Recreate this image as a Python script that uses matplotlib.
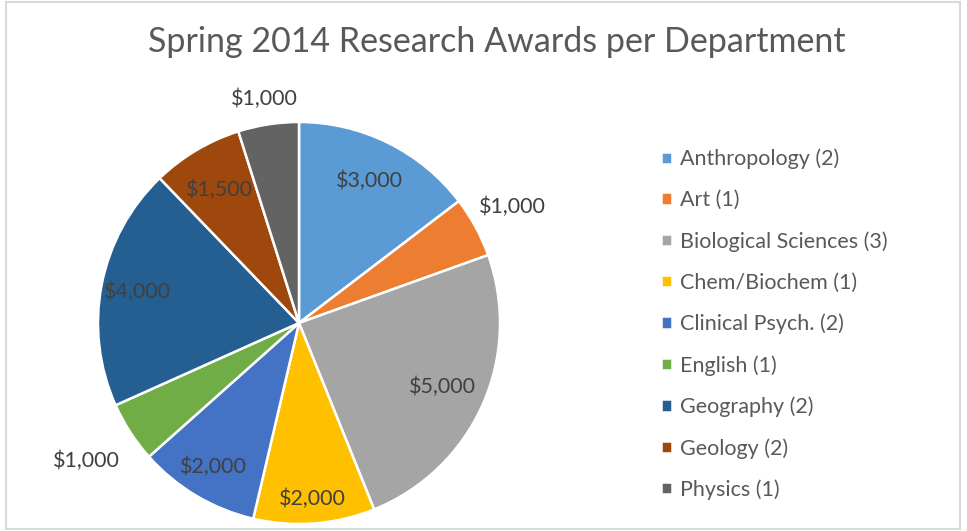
import numpy as np
import matplotlib.pyplot as plt
from matplotlib.patches import Rectangle

departments = ["Anthropology (2)", "Art (1)", "Biological Sciences (3)", "Chem/Biochem (1)",
               "Clinical Psych. (2)", "English (1)", "Geography (2)", "Geology (2)", "Physics (1)"]
awards = [3000, 1000, 5000, 2000, 2000, 1000, 4000, 1500, 1000]
colors = ["#5B9BD5", "#ED7D31", "#A5A5A5", "#FFC000", "#4472C4",
          "#70AD47", "#255E91", "#9E480E", "#636363"]

# label distance from centre (in radii) for each slice, like Excel's best fit
label_dist = [0.79, 1.21, 0.78, 0.88, 0.83, 1.26, 0.82, 0.77, 1.13]

plt.rcParams['font.family'] = ['Lato', 'DejaVu Sans']

fig = plt.figure(figsize=(9.67, 5.31), dpi=100)
fig.patches.append(Rectangle((6 / 967, 2 / 531), 954 / 967, 527 / 531, transform=fig.transFigure,
                             fill=False, edgecolor="#D9D9D9", linewidth=1.5))

ax = fig.add_axes([(299 - 201) / 967, (531 - 323 - 201) / 531, 402 / 967, 402 / 531])
wedges, _ = ax.pie(awards, colors=colors, startangle=90, counterclock=False,
                   wedgeprops=dict(edgecolor="white", linewidth=1.8))
ax.set_xlim(-1, 1)
ax.set_ylim(-1, 1)
ax.set_aspect("equal")

for w, val, d in zip(wedges, awards, label_dist):
    mid = np.deg2rad((w.theta1 + w.theta2) / 2)
    ax.text(d * np.cos(mid), d * np.sin(mid), f"${val:,}", ha="center", va="center",
            fontsize=15.5, color="#404040", clip_on=False)

fig.text(0.514, 0.921, "Spring 2014 Research Awards per Department", ha="center", va="center",
         fontsize=24.5, color="#595959")

fig.legend(wedges, departments, loc="upper left", bbox_to_anchor=(650 / 967, 1 - 138 / 531),
           frameon=False, fontsize=15.5, labelcolor="#595959", handlelength=0.5, handleheight=0.5,
           handletextpad=0.4, labelspacing=0.97, borderpad=0)

fig.savefig("out.png", dpi=100)
